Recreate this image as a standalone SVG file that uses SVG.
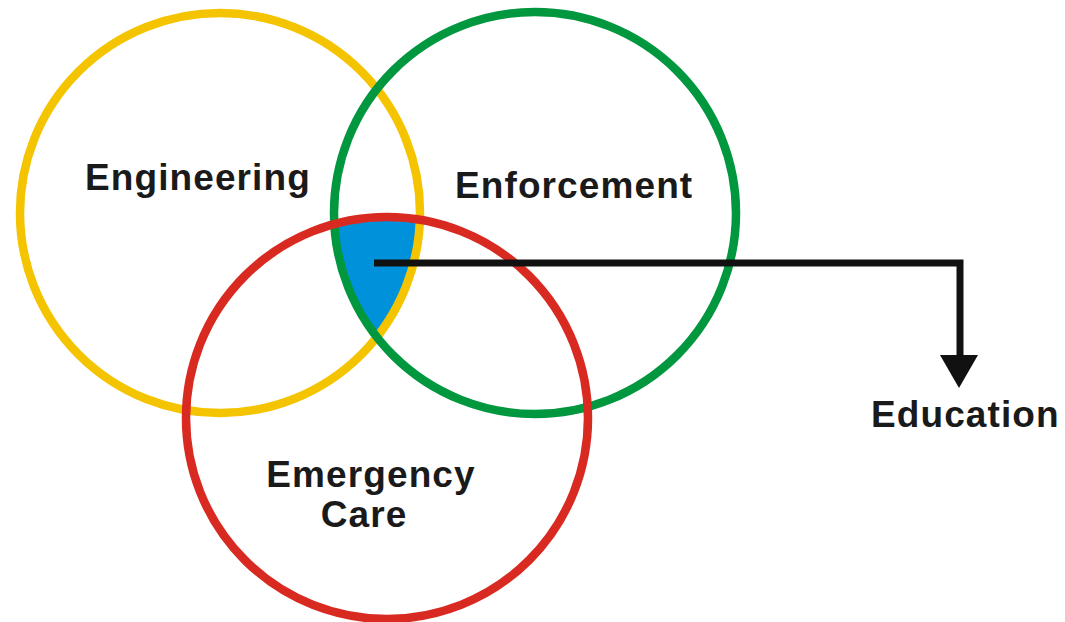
<svg xmlns="http://www.w3.org/2000/svg" width="1065" height="622" viewBox="0 0 1065 622">
<style>
.ring{fill:none;stroke-width:8.5}
.lbl{font-family:"Liberation Sans",Arial,sans-serif;font-weight:bold;font-size:37px;fill:#1a1a1a;letter-spacing:1.1px}
</style>
<defs>
<clipPath id="clipY"><circle cx="220" cy="213" r="200"/></clipPath>
<clipPath id="clipG"><circle cx="535" cy="213" r="201"/></clipPath>
</defs>
<rect width="1065" height="622" fill="#fff"/>
<g id="education-core">
<g clip-path="url(#clipY)"><g clip-path="url(#clipG)"><circle cx="387" cy="418" r="201" fill="#0091DB"/></g></g>
</g>
<g id="engineering">
<circle class="ring" cx="220" cy="213" r="200" stroke="#F5C400"/>
<text class="lbl" x="85" y="190">Engineering</text>
</g>
<g id="enforcement">
<circle class="ring" cx="535" cy="213" r="201" stroke="#00973F"/>
<text class="lbl" x="455" y="198">Enforcement</text>
</g>
<g id="emergency-care">
<circle class="ring" cx="387" cy="418" r="201" stroke="#D92A22"/>
<text class="lbl" x="371" y="487" text-anchor="middle">Emergency</text>
<text class="lbl" x="364" y="527" text-anchor="middle">Care</text>
</g>
<g id="connectors">
<path d="M374,263 H960 V356" fill="none" stroke="#111" stroke-width="7"/>
<polygon points="940,355 978,355 959,388" fill="#111"/>
</g>
<g id="education">
<text class="lbl" x="871" y="427">Education</text>
</g>
</svg>
